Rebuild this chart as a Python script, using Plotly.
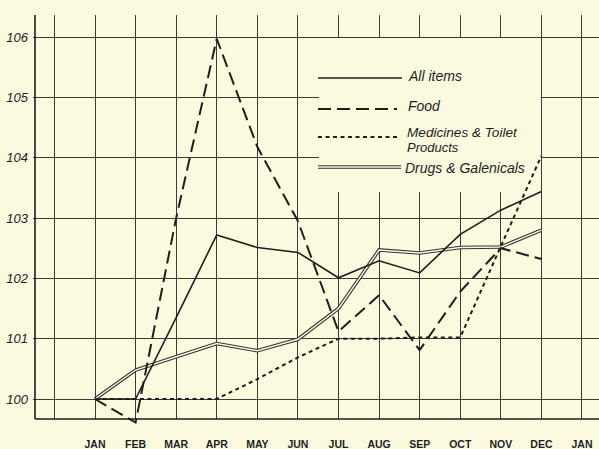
import plotly.graph_objects as go

months = ["JAN", "FEB", "MAR", "APR", "MAY", "JUN", "JUL", "AUG", "SEP", "OCT", "NOV", "DEC"]
tick_labels = ["", "JAN", "FEB", "MAR", "APR", "MAY", "JUN", "JUL", "AUG", "SEP", "OCT", "NOV", "DEC", "JAN"]
y_ticks = [100, 101, 102, 103, 104, 105, 106]

all_items = [100, 100, 101.35, 102.72, 102.51, 102.43, 102.01, 102.29, 102.09, 102.73, 103.13, 103.44]
food = [100, 99.61, 103.0, 105.97, 104.18, 102.95, 101.12, 101.72, 100.81, 101.78, 102.5, 102.32]
medicines = [100, 100, 100, 100, 100.33, 100.69, 101.0, 101.0, 101.02, 101.02, 102.53, 104.03]
drugs = [100, 100.48, 100.7, 100.92, 100.8, 100.99, 101.5, 102.47, 102.42, 102.51, 102.52, 102.8]

BG = "#FBFADF"
INK = "#1e1e1e"
GRID = "#3a3a3a"

W, H = 599, 449
L, R, T, B = 33, 0, 15, 22
X0 = (L - 95) / 40.58
X1 = (W - R - 95) / 40.58
Y1 = 100 + (399 - T) / 60.33
Y0 = 100 - ((H - B) - 399) / 60.33

xs = list(range(len(months)))

fig = go.Figure()

# Drugs & Galenicals: double line (dark outer, light inner)
fig.add_trace(go.Scatter(x=xs, y=drugs, mode="lines", line=dict(color="#333", width=3.6),
                         showlegend=False, hoverinfo="skip"))
fig.add_trace(go.Scatter(x=xs, y=drugs, mode="lines", line=dict(color=BG, width=1.4),
                         showlegend=False, name="Drugs & Galenicals"))
fig.add_trace(go.Scatter(x=xs, y=medicines, mode="lines",
                         line=dict(color=INK, width=2, dash="4px,3.5px"),
                         showlegend=False, name="Medicines & Toilet Products"))
fig.add_trace(go.Scatter(x=xs, y=food, mode="lines",
                         line=dict(color=INK, width=2, dash="13px,6px"),
                         showlegend=False, name="Food"))
fig.add_trace(go.Scatter(x=xs, y=all_items, mode="lines",
                         line=dict(color=INK, width=1.6),
                         showlegend=False, name="All items"))
# small dot at top of the y axis
fig.add_trace(go.Scatter(x=[X0 + 0.05], y=[106.41], mode="markers", cliponaxis=False,
                         marker=dict(color=INK, size=3), showlegend=False, hoverinfo="skip"))


def dx(px):
    return (px - 95) / 40.58


def dy(py):
    return 100 + (399 - py) / 60.33


AXIS_Y = dy(419)
shapes = [
    # mask the legend box area over gridlines
    dict(type="rect", xref="x", yref="y", x0=dx(319), x1=10.985, y0=dy(192), y1=105.985,
         fillcolor=BG, line=dict(width=0), layer="between"),
    # mask below the bottom axis
    dict(type="rect", xref="x", yref="y", x0=X0, x1=X1, y0=Y0, y1=AXIS_Y,
         fillcolor=BG, line=dict(width=0), layer="between"),
    # axis lines
    dict(type="line", xref="x", yref="y", x0=dx(35), x1=X1, y0=AXIS_Y, y1=AXIS_Y,
         line=dict(color=INK, width=1.6), layer="between"),
    dict(type="line", xref="x", yref="y", x0=dx(35), x1=dx(35), y0=AXIS_Y, y1=Y1,
         line=dict(color=INK, width=1.6), layer="between"),
]

# legend samples
lx0, lx1 = dx(318), dx(402)
shapes += [
    dict(type="line", xref="x", yref="y", x0=lx0, x1=lx1, y0=dy(78), y1=dy(78),
         line=dict(color=INK, width=1.6)),
    dict(type="line", xref="x", yref="y", x0=lx0, x1=dx(397), y0=dy(109), y1=dy(109),
         line=dict(color=INK, width=2, dash="13px,6px")),
    dict(type="line", xref="x", yref="y", x0=lx0, x1=dx(397), y0=dy(137), y1=dy(137),
         line=dict(color=INK, width=2, dash="4px,3.5px")),
    dict(type="line", xref="x", yref="y", x0=lx0, x1=dx(401), y0=dy(167), y1=dy(167),
         line=dict(color="#333", width=3.6)),
    dict(type="line", xref="x", yref="y", x0=lx0, x1=dx(401), y0=dy(167), y1=dy(167),
         line=dict(color=BG, width=1.4)),
]

legend_font = dict(family="Liberation Sans", size=14, color=INK, style="italic")
small_font = dict(family="Liberation Sans", size=13, color=INK, style="italic")
annotations = [
    dict(x=dx(406), y=dy(76), text="All items", font=legend_font),
    dict(x=dx(406), y=dy(106), text="Food", font=legend_font),
    dict(x=dx(405), y=dy(132), text="Medicines & Toilet", font=dict(small_font, size=13.6)),
    dict(x=dx(405), y=dy(147.5), text="Products", font=small_font),
    dict(x=dx(403), y=dy(168), text="Drugs & Galenicals", font=legend_font),
]
for a in annotations:
    a.update(xref="x", yref="y", xanchor="left", yanchor="middle", showarrow=False,
             align="left")

fig.update_layout(
    width=W, height=H,
    margin=dict(l=L, r=R, t=T, b=B, pad=0, autoexpand=False),
    paper_bgcolor=BG, plot_bgcolor=BG,
    shapes=shapes, annotations=annotations,
    showlegend=False,
    xaxis=dict(range=[X0, X1], tickmode="array", tickvals=list(range(-1, 13)), ticktext=tick_labels,
               showgrid=True, gridcolor=GRID, gridwidth=1, zeroline=False, showline=False,
               ticks="", ticklabelstandoff=9, automargin=False,
               tickfont=dict(family="Liberation Sans", size=10.5, color=INK, weight="bold")),
    yaxis=dict(range=[Y0, Y1], tickmode="array", tickvals=y_ticks, ticktext=[str(v) for v in y_ticks],
               showgrid=True, gridcolor=GRID, gridwidth=1, zeroline=False, showline=False,
               ticks="", ticklabelstandoff=4, automargin=False,
               tickfont=dict(family="Liberation Sans", size=13, color=INK, style="italic")),
)

fig.write_html("out.html", config={"displayModeBar": False},
               post_script="document.body.style.margin='0px';document.body.style.background='" + BG + "';")
